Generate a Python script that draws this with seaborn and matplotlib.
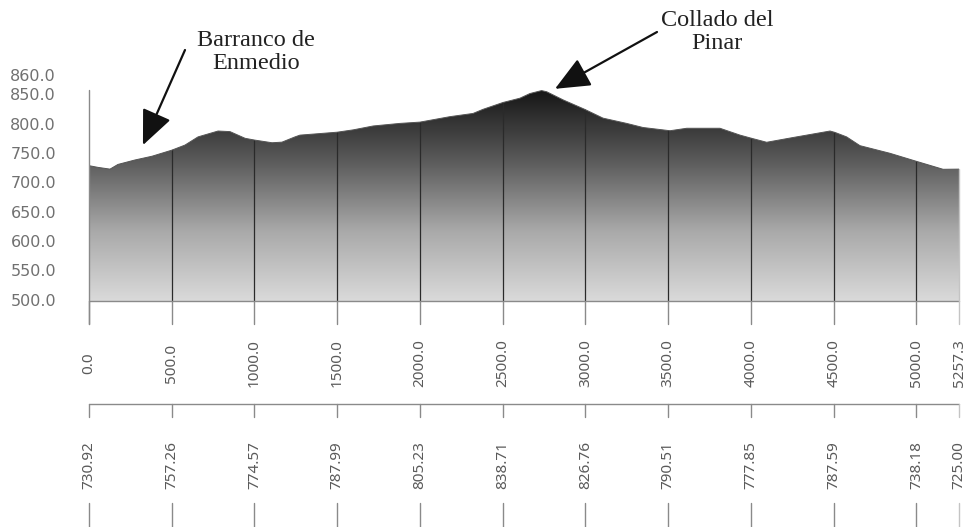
import numpy as np
import pandas as pd
import matplotlib
matplotlib.use("Agg")
import matplotlib.pyplot as plt
import seaborn as sns
from matplotlib.transforms import blended_transform_factory, ScaledTranslation
from matplotlib.patches import Polygon
from matplotlib.colors import LinearSegmentedColormap

# ---------------- data ----------------
dist = [0, 54, 127, 175, 278, 381, 500, 580, 659, 780, 852, 943, 1000, 1106, 1166,
        1245, 1275, 1366, 1500, 1597, 1717, 1879, 2000, 2181, 2321, 2381, 2502, 2604,
        2665, 2735, 2766, 2866, 2997, 3106, 3249, 3348, 3511, 3612, 3813, 3934, 4000,
        4095, 4256, 4478, 4508, 4578, 4659, 4840, 5001, 5161, 5257.3]
elev = [730.9, 728, 725, 733, 740.6, 747, 757.3, 766, 780, 790, 789, 777.6, 774.6, 770, 771,
        780, 783, 785, 788, 792, 798.6, 803, 805.2, 814.5, 820, 827, 838.7, 846,
        854, 859, 857, 843, 826.8, 812, 803, 796, 790.5, 794.7, 794.7, 783, 777.9,
        770.8, 779, 790, 787.6, 780, 765, 752, 738.2, 724.7, 725]

station_dist = [0, 500, 1000, 1500, 2000, 2500, 3000, 3500, 4000, 4500, 5000, 5257.3]
station_dist_labels = ["0.0", "500.0", "1000.0", "1500.0", "2000.0", "2500.0", "3000.0",
                       "3500.0", "4000.0", "4500.0", "5000.0", "5257.3"]
station_elev_labels = ["730.92", "757.26", "774.57", "787.99", "805.23", "838.71", "826.76",
                       "790.51", "777.85", "787.59", "738.18", "725.00"]
y_ticks = [500, 550, 600, 650, 700, 750, 800, 850, 860]

annot_texts = ["Barranco de\nEnmedio", "Collado del\nPinar"]
annot_targets = [(326, 766), (2816, 862)]

df = pd.DataFrame({"dist": dist, "elev": elev})

# ---------------- figure ----------------
sns.set_style("white")
plt.rcParams["font.family"] = ["DejaVu Sans"]

W, H = 977, 527
fig = plt.figure(figsize=(W / 100, H / 100), dpi=100)
ax = fig.add_axes([89 / W, (H - 301) / H, 870 / W, 211 / H])
ax.set_xlim(0, 5257.3)
ax.set_ylim(500, 860)
ax.set_axis_off()

def fy(px):
    return 1 - px / H

trans = blended_transform_factory(ax.transData, fig.transFigure)
trans_y = blended_transform_factory(fig.transFigure, ax.transData)

# gradient fill clipped to the profile
verts = list(zip(df["dist"], df["elev"])) + [(df["dist"].iloc[-1], 500), (df["dist"].iloc[0], 500)]
patch = Polygon(verts, closed=True, fc="none", ec="none", transform=ax.transData)
ax.add_patch(patch)
cmap = LinearSegmentedColormap.from_list("g", ["#dadada", "#a9a9a9", "#5a5a5a", "#161616"])
grad = np.linspace(0, 1, 512).reshape(-1, 1)
im = ax.imshow(grad, cmap=cmap, extent=[0, 5257.3, 500, 860], origin="lower",
               aspect="auto", interpolation="bicubic")
im.set_clip_path(patch)

# vertical station lines inside the profile
vl = ax.vlines(station_dist[1:-1], 500, 870, color="#2a2a2a", lw=0.9)
vl.set_clip_path(patch)

# profile outline
sns.lineplot(data=df, x="dist", y="elev", ax=ax, color="#555555", lw=0.7, sort=False)
ax.set_axis_off()

# left axis line and bottom lines
ax.plot([0, 0], [fy(90), fy(324)], transform=trans, clip_on=False, color="#8a8a8a", lw=1.0)
ax.plot([0, 5257.3], [fy(301), fy(301)], transform=trans, clip_on=False, color="#8a8a8a", lw=1.0)
ax.plot([0, 5257.3], [fy(404), fy(404)], transform=trans, clip_on=False, color="#8a8a8a", lw=1.0)
# right edge line
ax.plot([5257.3, 5257.3], [elev[-1], 500], color="#c4c4c4", lw=1.0, clip_on=False)

# ticks and labels below
label_font = ["Noto Sans", "DejaVu Sans"]
for i, (d, dl, el) in enumerate(zip(station_dist, station_dist_labels, station_elev_labels)):
    c = "#c4c4c4" if i == len(station_dist) - 1 else "#8a8a8a"
    for y0, y1 in [(301, 324), (404, 417), (503, 527)]:
        ax.plot([d, d], [fy(y0), fy(y1)], transform=trans, clip_on=False, color=c, lw=1.0)
    ax.text(d, fy(363), dl, rotation=90, ha="center", va="center", transform=trans,
            fontsize=11, color="#5a5a5a", family=label_font)
    ax.text(d, fy(465), el, rotation=90, ha="center", va="center", transform=trans,
            fontsize=11, color="#5a5a5a", family=label_font)

# y labels
for v in y_ticks:
    t = trans_y
    if v == 860:
        t = trans_y + ScaledTranslation(0, 13 / 100, fig.dpi_scale_trans)
    ax.text(56 / W, v, f"{v:.1f}", ha="right", va="center", transform=t,
            fontsize=11.5, color="#707070", clip_on=False)

# annotations
for txt_target, tail in zip(annot_targets, [(185, H - 50), (657, H - 32)]):
    ax.annotate("", xy=txt_target, xycoords="data", xytext=tail,
                textcoords="figure pixels",
                arrowprops=dict(arrowstyle="-|>,head_length=0.8,head_width=0.35",
                                mutation_scale=27, color="#111111", lw=1.6,
                                shrinkA=0, shrinkB=0), annotation_clip=False)
fig.text(256 / W, fy(52), annot_texts[0], ha="center", va="center", fontsize=17.5,
         family=["Liberation Serif", "DejaVu Serif"], linespacing=1.1, color="#222222")
fig.text(717 / W, fy(32), annot_texts[1], ha="center", va="center", fontsize=17.5,
         family=["Liberation Serif", "DejaVu Serif"], linespacing=1.1, color="#222222")

fig.savefig("out.png", dpi=100, facecolor="white")
